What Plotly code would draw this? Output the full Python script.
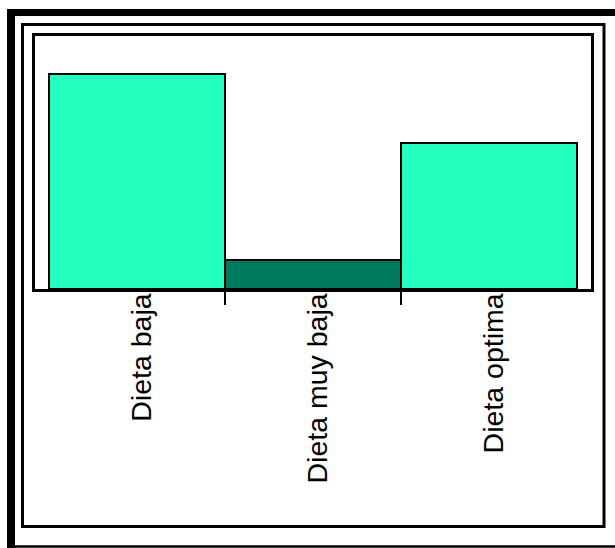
import plotly.graph_objects as go

categories = ["Dieta baja", "Dieta muy baja", "Dieta optima"]
values = [85, 11.5, 57.7]
bar_colors = ["#22FFBF", "#007A5E", "#22FFBF"]

boundaries = [i + 0.5 for i in range(len(categories) - 1)]
x_range = [-0.58, len(categories) - 1 + 0.58]

fig = go.Figure()
fig.add_trace(go.Bar(
    x=categories, y=values,
    marker=dict(color=bar_colors, line=dict(color="black", width=2)),
    hoverinfo="skip",
))
# helper invisible trace so the tick-only overlay axis is drawn
fig.add_trace(go.Scatter(
    x=boundaries, y=[0] * len(boundaries), xaxis="x2", yaxis="y",
    mode="markers", marker=dict(opacity=0), hoverinfo="skip", showlegend=False,
))

W, H = 615, 548
L, R, T, B = 35, 24, 36, 259
pw, ph = W - L - R, H - T - B

def px(x):
    return (x - L) / pw

def py(y):
    return (H - B - y) / ph

frame_shapes = [
    # thick top bar
    dict(type="line", x0=px(7), x1=px(615), y0=py(12.5), y1=py(12.5), line=dict(color="black", width=7)),
    # thick left bar
    dict(type="line", x0=px(11), x1=px(11), y0=py(548), y1=py(9), line=dict(color="black", width=8)),
    # thin bottom line
    dict(type="line", x0=px(7), x1=px(615), y0=py(546.5), y1=py(546.5), line=dict(color="black", width=2.5)),
    # inner frame
    dict(type="rect", x0=px(22.5), x1=px(604), y0=py(526.5), y1=py(24.5), line=dict(color="black", width=3)),
]
for s in frame_shapes:
    s.update(xref="paper", yref="paper", layer="above")

fig.update_layout(
    width=W, height=H,
    margin=dict(l=L, r=R, t=T, b=B),
    paper_bgcolor="white", plot_bgcolor="white",
    showlegend=False, bargap=0,
    font=dict(family="Liberation Sans, Arial, sans-serif", color="black"),
    xaxis=dict(
        type="category", range=x_range,
        showgrid=False, zeroline=False,
        showline=True, linecolor="black", linewidth=3, mirror=True,
        ticks="", tickangle=-90,
        ticklabelstandoff=-10, ticklabelshift=5,
        tickfont=dict(size=28.5, color="black", family="Liberation Sans, Arial, sans-serif"),
    ),
    xaxis2=dict(
        overlaying="x", anchor="y", range=x_range,
        tickvals=boundaries, showticklabels=False,
        ticks="outside", ticklen=15, tickwidth=2, tickcolor="black",
        showgrid=False, zeroline=False, showline=False,
    ),
    yaxis=dict(
        range=[0, 100], showgrid=False, zeroline=False,
        showline=True, linecolor="black", linewidth=3, mirror=True,
        showticklabels=False, ticks="",
    ),
    shapes=frame_shapes,
)

fig.write_html("out.html", config={"displayModeBar": False})
